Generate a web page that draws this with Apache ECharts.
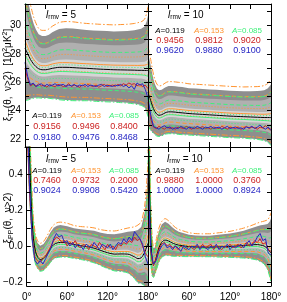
<!DOCTYPE html>
<html><head><meta charset="utf-8">
<script src="https://cdn.jsdelivr.net/npm/echarts@6/dist/echarts.min.js"></script>
<style>html,body{margin:0;padding:0;background:#fff}#c{width:287px;height:302px}</style>
</head><body><div id="c"></div><script>
// ---------- data ----------
const thetaSmooth = [0,2,4,6,8,10,13,16,20,25,30,35,40,45,50,60,70,80,90,100,110,120,130,140,150,160,165,170,175,178,180];
const thetaData = [0,4,8,12,16,20,24,28,32,36,40,44,48,52,56,60,64,68,72,76,80,84,88,92,96,100,104,108,112,116,120,124,128,132,136,140,144,148,152,156,160,164,168,172,176,180];

// xi_TT, l_rmv = 5
const TL_mean = [28.4,28.2,28.0,27.8,27.6,27.45,27.25,27.1,26.95,26.88,26.88,26.92,26.98,27.02,27.05,27.05,27.03,27.0,26.98,26.95,26.92,26.9,26.88,26.87,26.86,26.85,26.84,26.84,26.83,26.83,26.83];
const TL_sd   = [1.6,1.5,1.4,1.3,1.2,1.12,1.02,0.95,0.88,0.86,0.86,0.88,0.92,0.95,0.98,1.0,1.0,0.99,0.98,0.98,0.98,0.98,0.98,0.99,1.0,1.02,1.04,1.06,1.12,1.25,1.4];
const TL_red  = [27.0,26.2,25.75,25.85,25.7,25.9,25.75,25.8,25.65,25.85,25.75,25.7,25.85,25.8,25.7,25.75,25.9,25.7,25.8,25.75,25.65,25.8,25.7,25.85,25.75,25.7,25.8,25.65,25.75,25.85,25.7,25.75,25.8,25.7,25.85,25.75,25.9,25.8,25.95,25.85,25.9,25.75,25.85,25.7,25.8,25.55];
const TL_blue = [27.4,26.4,25.8,25.95,25.7,25.8,25.9,25.7,25.85,25.75,25.8,25.9,25.75,25.8,25.85,25.7,25.8,25.75,25.85,25.7,25.8,25.75,25.85,25.7,25.8,25.75,25.7,25.8,25.85,25.7,25.8,25.75,25.7,25.8,25.75,25.85,25.7,25.8,25.6,25.75,25.5,25.95,25.8,25.9,25.5,24.9];

// xi_TT, l_rmv = 10
const TR_mean = [25.3,25.0,24.7,24.4,24.15,23.95,23.75,23.68,23.72,23.85,23.92,23.92,23.9,23.87,23.85,23.8,23.77,23.74,23.71,23.68,23.65,23.62,23.6,23.58,23.56,23.54,23.53,23.52,23.52,23.52,23.52];
const TR_sd   = [1.0,0.95,0.9,0.82,0.75,0.7,0.66,0.64,0.64,0.65,0.66,0.66,0.66,0.66,0.66,0.65,0.65,0.65,0.65,0.65,0.65,0.65,0.65,0.65,0.66,0.67,0.68,0.7,0.74,0.8,0.85];
const TR_red  = [24.6,23.4,22.85,22.75,22.9,22.8,22.7,22.85,22.75,22.8,22.7,22.85,22.8,22.75,22.9,22.8,22.7,22.85,22.75,22.8,22.9,22.75,22.8,22.7,22.85,22.8,22.75,22.9,22.8,22.7,22.85,22.8,22.75,22.85,22.7,22.8,22.9,22.75,22.85,22.8,22.7,22.85,22.8,22.95,22.75,22.7];
const TR_blue = [24.9,23.7,22.9,22.8,22.7,22.85,22.95,22.8,22.85,22.7,22.8,22.75,22.9,22.8,22.7,22.85,22.8,22.75,22.9,22.8,22.7,22.85,22.8,22.9,22.75,22.8,22.85,22.7,22.8,22.9,22.75,22.8,22.85,22.75,22.8,22.7,22.85,22.8,22.9,22.75,22.85,23.0,22.8,22.7,22.85,22.6];

// xi_PP, l_rmv = 5
const BL_mean = [1.1,0.8,0.52,0.3,0.14,0.04,-0.03,-0.06,-0.075,-0.068,-0.045,-0.015,0.008,0.017,0.02,0.017,0.008,0.002,-0.004,-0.012,-0.025,-0.037,-0.045,-0.044,-0.045,-0.06,-0.07,-0.065,-0.035,-0.005,0.015];
const BL_sd   = [0.15,0.12,0.09,0.06,0.045,0.035,0.03,0.028,0.028,0.029,0.031,0.033,0.034,0.035,0.035,0.034,0.033,0.033,0.034,0.035,0.036,0.038,0.04,0.042,0.045,0.052,0.058,0.062,0.08,0.11,0.14];
const BL_red  = [0.7,0.3,0.05,-0.06,-0.08,-0.09,-0.07,-0.06,-0.03,0.0,0.03,0.05,0.04,0.02,0.03,0.0,0.02,0.01,0.03,0.0,-0.01,0.01,0.0,-0.02,0.01,0.0,-0.01,0.02,0.0,-0.02,0.01,-0.01,0.0,-0.02,0.01,0.0,0.02,0.01,0.03,0.02,0.05,0.03,0.04,0.0,-0.04,-0.06];
const BL_blue = [0.8,0.35,0.04,-0.08,-0.1,-0.08,-0.1,-0.07,-0.04,-0.01,0.04,0.07,0.05,0.06,0.02,0.03,0.0,0.02,-0.01,0.01,0.0,-0.02,0.01,0.0,-0.01,0.02,0.0,-0.02,0.01,0.0,-0.01,0.01,-0.02,0.0,0.02,0.01,0.04,0.02,0.05,0.03,0.08,0.06,0.04,0.01,-0.06,-0.1];

// xi_PP, l_rmv = 10
const BR_mean = [0.7,0.35,0.05,-0.07,-0.1,-0.09,-0.05,-0.01,0.02,0.033,0.028,0.018,0.01,0.005,0.002,-0.003,-0.005,-0.006,-0.006,-0.005,-0.004,-0.002,0.0,0.003,0.006,0.008,0.005,0.0,-0.015,-0.03,-0.04];
const BR_sd   = [0.15,0.1,0.06,0.04,0.032,0.03,0.032,0.034,0.036,0.037,0.035,0.032,0.029,0.027,0.026,0.024,0.023,0.023,0.023,0.024,0.025,0.026,0.028,0.03,0.033,0.037,0.04,0.043,0.05,0.06,0.07];
const BR_red  = [0.35,-0.04,-0.11,-0.07,-0.02,0.01,0.02,0.0,0.01,-0.01,0.0,-0.02,0.0,-0.01,-0.02,0.0,-0.01,-0.02,0.0,-0.01,0.01,-0.01,0.0,0.01,-0.02,0.0,-0.01,-0.02,0.0,-0.01,0.01,-0.01,0.0,0.01,-0.01,0.0,0.02,0.0,0.01,0.03,0.02,0.04,0.01,0.02,-0.02,-0.03];
const BR_blue = [0.4,-0.02,-0.1,-0.08,-0.03,0.0,0.015,-0.01,0.0,-0.02,0.0,-0.01,-0.03,0.0,-0.01,-0.02,0.0,-0.01,0.01,-0.02,0.0,-0.01,-0.02,0.0,-0.01,0.01,-0.02,0.0,-0.01,0.01,-0.02,0.0,-0.01,0.0,0.01,-0.01,0.01,0.03,0.0,0.02,0.05,0.07,0.03,0.04,-0.04,-0.05];

// band levels (in units of sd): inner, middle, outer
const bandUp = [0.55, 1.75, 2.75];
const bandDn = [0.55, 1.35, 2.3];
// A=0.153 (orange) and A=0.085 (green): shift of mean and scale of spread, in sd units
const orangeShift = 0.33, orangeScale = 1.05;
const greenShift = -0.3, greenScale = 0.88;

// tick / label values
const ttTicks = [22,23,24,25,26,27,28,29,30,31];
const ttLabels = [22,24,26,28,30];
const ppTicks = [-0.2,-0.1,0,0.1,0.2,0.3,0.4,0.5];
const ppLabels = [-0.2,0,0.2,0.4];
const ttRange = [21.45, 31.5];
const ppRange = [-0.222, 0.55];

const legendA = ['0.119','0.153','0.085'];
const TL_redVals = ['0.9156','0.9496','0.8400'], TL_blueVals = ['0.9180','0.9476','0.8468'];
const TR_redVals = ['0.9456','0.9812','0.9020'], TR_blueVals = ['0.9620','0.9880','0.9100'];
const BL_redVals = ['0.7460','0.9732','0.2000'], BL_blueVals = ['0.9024','0.9908','0.5420'];
const BR_redVals = ['0.9880','1.0000','0.3760'], BR_blueVals = ['1.0000','1.0000','0.8924'];
const lrmv = ['5','10','5','10'];

// ---------- styling ----------
const FONT = 'Liberation Sans, Arial, sans-serif';
const C_OR = '#ff9430', C_GR = '#3ff07a', C_RED = '#cc2222', C_BLUE = '#2626c4';
const bandColors = ['#d5d5d5', '#b0b0b0', '#8e8e8e'];
const levelTypes = [[1,2],[4,2.5],[6,2,1.5,2]];

const grids = [
  {left:25, top:4, width:123, height:143},
  {left:148, top:4, width:123, height:143},
  {left:25, top:147, width:123, height:139},
  {left:148, top:147, width:123, height:139}
];
const panels = [
  {mean:TL_mean, sd:TL_sd, red:TL_red, blue:TL_blue, range:ttRange, ticks:ttTicks, labels:ttLabels, redV:TL_redVals, blueV:TL_blueVals},
  {mean:TR_mean, sd:TR_sd, red:TR_red, blue:TR_blue, range:ttRange, ticks:ttTicks, labels:ttLabels, redV:TR_redVals, blueV:TR_blueVals},
  {mean:BL_mean, sd:BL_sd, red:BL_red, blue:BL_blue, range:ppRange, ticks:ppTicks, labels:ppLabels, redV:BL_redVals, blueV:BL_blueVals},
  {mean:BR_mean, sd:BR_sd, red:BR_red, blue:BR_blue, range:ppRange, ticks:ppTicks, labels:ppLabels, redV:BR_redVals, blueV:BR_blueVals}
];

const pts = (xs, ys) => xs.map((x, i) => [x, ys[i]]);
const xAxis = [], yAxis = [], series = [];

panels.forEach((p, g) => {
  const isLeft = g % 2 === 0, isBottom = g >= 2;
  const common = {gridIndex:g, type:'value', min:0, max:180, interval:30,
    axisLine:{show:true, onZero:false, lineStyle:{color:'#000', width:1}},
    axisTick:{show:true, inside:true, length:5, lineStyle:{color:'#000'}},
    splitLine:{show:false}, z:10};
  xAxis.push(Object.assign({}, common, {position:'bottom',
    axisLabel:{show:isBottom, margin:6, fontFamily:FONT, fontSize:10, color:'#000', hideOverlap:false,
      showMinLabel:true, showMaxLabel:true,
      formatter: v => (v % 60 === 0 && !(v === 0 && !isLeft)) ? v + '°' : ''}}));
  xAxis.push(Object.assign({}, common, {position:'top', axisLabel:{show:false}}));
  const ycommon = {gridIndex:g, type:'value', min:p.range[0], max:p.range[1],
    axisLine:{show:true, onZero:false, lineStyle:{color:'#000', width:1}},
    axisTick:{show:true, inside:true, length:4, customValues:p.ticks, lineStyle:{color:'#000'}},
    splitLine:{show:false}, z:10};
  yAxis.push(Object.assign({}, ycommon, {position:'left',
    axisLabel:{show:isLeft, customValues:p.labels, margin:4, fontFamily:FONT, fontSize:10, color:'#000',
      formatter: v => isBottom ? (v < 0 ? '\u2212' + Math.abs(v).toFixed(1) : v.toFixed(1)) : String(v)}}));
  yAxis.push(Object.assign({}, ycommon, {position:'right', axisLabel:{show:false}}));

  // gray bands (outer first), drawn as polygons through the axes' coordinate system
  for (let k = 2; k >= 0; k--) {
    const lo = p.mean.map((m, i) => m - bandDn[k] * p.sd[i]);
    const hi = p.mean.map((m, i) => m + bandUp[k] * p.sd[i]);
    const bandData = thetaSmooth.map((t, i) => [t, lo[i], hi[i]]);
    const color = bandColors[k];
    series.push({type:'custom', xAxisIndex:2*g, yAxisIndex:2*g, silent:true, clip:true, z:1,
      data: bandData,
      encode:{x:0, y:[1,2]},
      renderItem: (params, api) => {
        if (params.dataIndex !== 0) return null;
        const up = bandData.map(d => api.coord([d[0], d[2]]));
        const dn = bandData.map(d => api.coord([d[0], d[1]])).reverse();
        return {type:'polygon', shape:{points: up.concat(dn)}, style:{fill:color, stroke:null}};
      }});
  }
  const base = {type:'line', xAxisIndex:2*g, yAxisIndex:2*g, symbol:'none', smooth:0.3, silent:true, clip:true, z:2};
  // orange and green families
  [[C_OR, orangeShift, orangeScale], [C_GR, greenShift, greenScale]].forEach(([col, sh, sc]) => {
    const m = p.mean.map((v, i) => v + sh * p.sd[i]);
    for (let k = 0; k < 3; k++) {
      const up = m.map((v, i) => v + sc * bandUp[k] * p.sd[i]);
      const dn = m.map((v, i) => v - sc * bandDn[k] * p.sd[i]);
      series.push(Object.assign({}, base, {data:pts(thetaSmooth, up), lineStyle:{color:col, width:1, type:levelTypes[k]}}));
      series.push(Object.assign({}, base, {data:pts(thetaSmooth, dn), lineStyle:{color:col, width:1, type:levelTypes[k]}}));
    }
    series.push(Object.assign({}, base, {data:pts(thetaSmooth, m), lineStyle:{color:col, width:1}}));
  });
  series.push(Object.assign({}, base, {data:pts(thetaSmooth, p.mean), lineStyle:{color:'#000', width:1}}));
  series.push(Object.assign({}, base, {smooth:false, data:pts(thetaData, p.red), lineStyle:{color:C_RED, width:1}}));
  series.push(Object.assign({}, base, {smooth:false, data:pts(thetaData, p.blue), lineStyle:{color:C_BLUE, width:1}}));
});

// ---------- texts ----------
const graphic = [];
const lrmvPos = [[46,15],[168,15],[46,159],[167,159]];
const legPos = [[116,127,138],[31,41,51],[171,181,191],[171,181,191]];
const colOff = [22, 61, 99];
const legColors = ['#000', C_OR, C_GR];
panels.forEach((p, g) => {
  graphic.push({type:'text', x:lrmvPos[g][0], y:lrmvPos[g][1], silent:true, z:100, style:{
    text:'{l|l}{s|rmv}{n| = ' + lrmv[g] + '}', verticalAlign:'middle', align:'left',
    rich:{l:{fontFamily:FONT, fontSize:10, fontStyle:'italic', fill:'#000', verticalAlign:'middle'},
          s:{fontFamily:FONT, fontSize:6.5, fill:'#000', padding:[5,0,0,0], verticalAlign:'middle'},
          n:{fontFamily:FONT, fontSize:10, fill:'#000', verticalAlign:'middle'}}}});
  const gl = grids[g].left;
  for (let c = 0; c < 3; c++) {
    const x = gl + colOff[c];
    graphic.push({type:'text', x:x, y:legPos[g][0], silent:true, z:100, style:{
      text:'{i|A}{n|=' + legendA[c] + '}', align:'center', verticalAlign:'middle',
      rich:{i:{fontFamily:FONT, fontSize:8, fontStyle:'italic', fill:legColors[c]}, n:{fontFamily:FONT, fontSize:8, fill:legColors[c]}}}});
    graphic.push({type:'text', x:x, y:legPos[g][1], silent:true, z:100, style:{text:p.redV[c], align:'center', verticalAlign:'middle', fontFamily:FONT, fontSize:9, fill:C_RED}});
    graphic.push({type:'text', x:x, y:legPos[g][2], silent:true, z:100, style:{text:p.blueV[c], align:'center', verticalAlign:'middle', fontFamily:FONT, fontSize:9, fill:C_BLUE}});
  }
});
const titleRich = {
  a:{fontFamily:FONT, fontSize:10, fill:'#000', verticalAlign:'middle'},
  s:{fontFamily:FONT, fontSize:7, fill:'#000', padding:[6,0,0,0], verticalAlign:'middle'},
  p:{fontFamily:FONT, fontSize:7, fill:'#000', padding:[0,0,6,0], verticalAlign:'middle'}
};
graphic.push({type:'text', x:8, y:75, rotation:Math.PI/2, silent:true, z:100, style:{
  text:'{a|ξ}{s|TT}{a|(θ,  ν>2)  [10}{p|2}{a|μK}{p|2}{a|]}', align:'center', verticalAlign:'middle', rich:titleRich}});
graphic.push({type:'text', x:8, y:218, rotation:Math.PI/2, silent:true, z:100, style:{
  text:'{a|ξ}{s|PP}{a|(θ,  ν>2)}', align:'center', verticalAlign:'middle', rich:titleRich}});

const chart = echarts.init(document.getElementById('c'), null, {renderer:'canvas'});
chart.setOption({animation:false, backgroundColor:'#fff', grid:grids, xAxis, yAxis, series, graphic});
</script></body></html>
